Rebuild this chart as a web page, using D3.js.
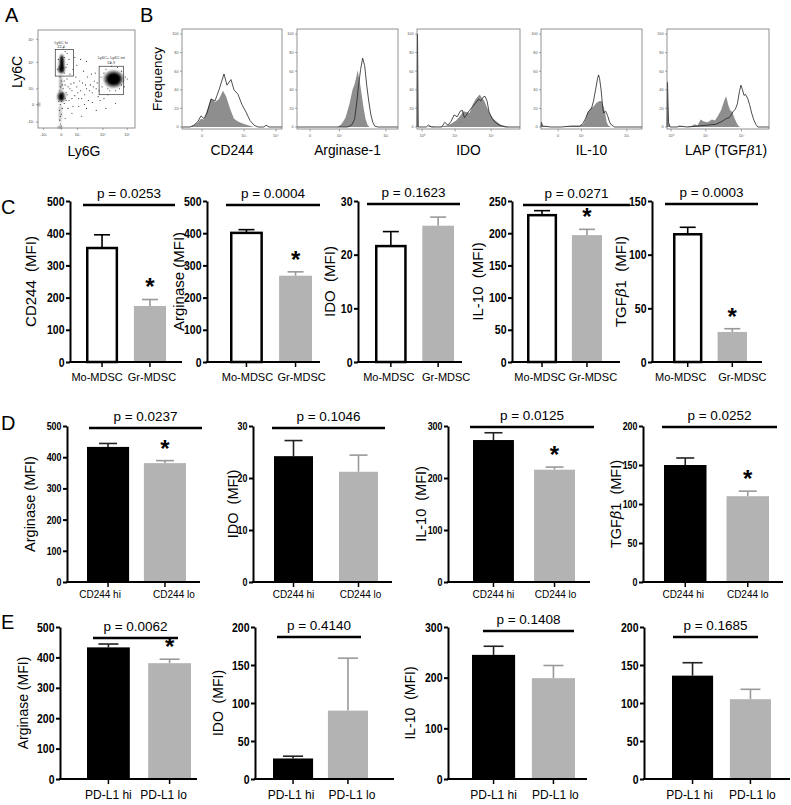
<!DOCTYPE html>
<html><head><meta charset="utf-8">
<script src="https://cdn.jsdelivr.net/npm/d3@7"></script>
<style>
body{margin:0;background:#fff}
svg{display:block}
text{font-family:"Liberation Sans",Arial,Helvetica,sans-serif}
</style>
</head><body>
<svg id="c" width="791" height="805"></svg>
<script>
// ---------------- DATA ----------------
// Panel A: flow plot (axis units 0-100)
const scatterDensity = [ // [cx, cy, rx, ry, opacity]
  [24.5,66,2.3,9,1],[24,60,3.2,4,0.8],[78,50,7.5,6.5,1],[78,50,10.5,9,0.45],
  [24,32,2.8,4,1],[24,32,4.5,5.5,0.35],[23.5,45,1.2,9,0.45],[23,15,1.1,10,0.35],
  [22.5,0.8,2,0.8,1],[0.8,24,0.8,1.5,1]
];
const scatterEvents = [
  [22.5,8],[23,12],[24,14],[22,18],[25,20],[23,24],[24.5,27],[22,38],[23,42],[25,44],[24,48],[22.5,52],[26,40],[25,36],[21.5,27],[23,4],[24,2],
  [28,30],[30,34],[32,28],[35,38],[34,45],[38,33],[40,42],[42,30],[44,38],[46,46],[48,34],[50,40],[52,28],[54,44],[56,36],[58,48],[60,40],[62,32],
  [30,50],[33,55],[36,60],[40,64],[44,70],[50,68],[38,72],[47,58],[55,55],[29,62],[32,70],[27,25],[31,20],[36,22],[42,22],[48,24],[56,26],[64,28],
  [68,30],[72,34],[28,44],[31,42],[66,42],[68,56],[70,60],[72,40],[74,38],[84,40],[86,44],[88,48],[90,52],[86,58],[82,62],[76,63],[70,48],[65,52],
  [89,42],[80,38],[92,50],[75,66],[27,72],[28,78],[30,65],[27,56],[20,60],[21,70],[26,82],[30,76],[35,15],[45,12],[60,18],[70,20],[80,25],[28,10],[50,20],
  [29,36],[33,40],[37,46],[41,36],[45,30],[49,44],[53,38],[57,42],[61,46],[63,38],[39,52],[43,48],[51,52],[59,56],[35,30],[27,48],[29,28],[26,35]
];
const scatterGates = [[17.8,36.6,53,80],[63,88,34,63]];
const scatterGateLabels = [["Ly6C hi","22.0"],["Ly6C+ Ly6C int","59.9"]];
const scatterXTicks = [[5.8,"-10³"],[24,"0"],[40.7,"10³"],[67,"10⁴"],[92,"10⁵"]];
const scatterYTicks = [[6,"-10³"],[23.7,"0"],[40,"10³"],[67,"10⁴"],[90.5,"10⁵"]];

// Panel B: histograms (x: channel 0-100, y: frequency 0-100)
const histMarkers = ["CD244","Arginase-1","IDO","IL-10","LAP (TGF\u03B21)"];
const histShaded = [
  [[0,0],[8,0],[12,2],[16,5],[19,9],[22,8],[25,18],[29,31],[33,27],[37,30],[41,39],[44,33],[48,20],[52,9],[56,6],[60,4],[66,2],[72,0],[100,0]],
  [[0,0],[40,0],[44,3],[48,10],[52,25],[55,40],[57,46],[59,55],[60,61],[62,50],[64,35],[66,20],[68,8],[70,2],[72,0],[100,0]],
  [[0,0],[0.5,100],[1.2,0],[10,0],[12,1],[20,0],[30,2],[34,4],[38,7],[42,12],[45,17],[48,16],[51,15],[54,24],[57,30],[60,34],[61,35],[63,31],[65,29],[68,21],[71,14],[74,9],[78,5],[82,2],[86,1],[90,0],[100,0]],
  [[0,0],[0.5,5],[1.5,1],[10,0],[20,0],[30,1],[38,1],[42,3],[44,8],[46,15],[49,20],[52,22],[55,26],[58,28],[60,28],[62,22],[63.5,15],[65,5],[67,1],[70,0],[100,0]],
  [[0,0],[0.5,48],[1.5,5],[3,0],[10,0],[12,1],[18,0],[24,1],[27,3],[30,2],[33,8],[36,6],[40,5],[44,8],[47,7],[50,12],[53,18],[56,28],[58,33],[60,24],[62,18],[64,16],[66,10],[68,5],[70,1],[72,0],[100,0]]
];
const histOpen = [
  [[0,0],[8,0],[12,2],[16,6],[19,12],[22,9],[25,15],[29,30],[33,28],[37,40],[42,57],[45,45],[49,51],[52,40],[56,35],[60,24],[64,16],[68,7],[72,2],[76,0],[82,0],[84,2],[87,0],[100,0]],
  [[0,0],[50,0],[54,2],[57,8],[59,25],[61,45],[63,62],[65,74],[67,66],[69,45],[71,28],[73,14],[75,5],[77,1],[80,0],[100,0]],
  [[0,0],[0.5,100],[1.2,0],[9,0],[11,2],[14,0],[24,0],[27,5],[30,2],[33,6],[36,13],[39,11],[42,17],[44,18],[46,10],[48,13],[51,18],[54,22],[57,26],[60,30],[62,28],[64,32],[66,33],[68,28],[70,16],[73,9],[76,5],[80,2],[86,0],[100,0]],
  [[0,0],[0.5,5],[1.5,1],[10,0],[20,0],[30,1],[38,1],[41,3],[44,9],[47,17],[50,20],[52,28],[54,40],[56,52],[57,56],[58,52],[59.5,40],[61,22],[62,15],[64,17],[66,12],[68,5],[70,2],[73,0],[100,0]],
  [[0,0],[0.5,48],[1.5,5],[3,0],[10,0],[12,1],[20,0],[30,1],[40,2],[48,3],[54,6],[58,9],[61,10],[63,13],[65,17],[67,19],[69,25],[71,38],[72.5,45],[74,40],[75.5,34],[77,35],[79,31],[81,24],[83,15],[85,8],[87,3],[89,0],[100,0]]
];
const histXTicks = [
  [[20,"0"],[62,"10³"],[94,"10⁴"]],
  [[13,"0"],[42,"10²"],[88,"10³"]],
  [[5,"10⁰"],[37,"10¹"],[72,"10²"]],
  [[17,"0"],[40,"10²"],[85,"10³"]],
  [[4,"10⁰"],[38,"10¹"],[73,"10²"]]
];
const histYTicks = [0,20,40,60,80,100];

// Panel C
const cGroups = ["Mo-MDSC","Gr-MDSC"];
const cLabels = ["CD244  (MFI)","Arginase (MFI)","IDO  (MFI)","IL-10  (MFI)","TGF\u03B21  (MFI)"];
const cMeans = [[354,174],[401,268],[21.6,25.4],[228,197],[119,28]];
const cErrors = [[41,20],[10,12],[2.7,1.6],[7,9],[6.5,3]];
const cP = ["0.0253","0.0004","0.1623","0.0271","0.0003"];
const cStar = [1,1,0,1,1];
const cMax = [500,500,30,250,150];
const cTicks = [[0,100,200,300,400,500],[0,100,200,300,400,500],[0,10,20,30],[0,50,100,150,200,250],[0,50,100,150]];

// Panel D
const dGroups = ["CD244 hi","CD244 lo"];
const dLabels = ["Arginase (MFI)","IDO  (MFI)","IL-10  (MFI)","TGF\u03B21  (MFI)"];
const dMeans = [[433,381],[24.2,21.2],[273,216],[150,110]];
const dErrors = [[11,8],[3,3.2],[14,5],[9,6.5]];
const dP = ["0.0237","0.1046","0.0125","0.0252"];
const dStar = [1,0,1,1];
const dMax = [500,30,300,200];
const dTicks = [[0,100,200,300,400,500],[0,10,20,30],[0,100,200,300],[0,50,100,150,200]];

// Panel E
const eGroups = ["PD-L1 hi","PD-L1 lo"];
const eLabels = ["Arginase (MFI)","IDO  (MFI)","IL-10  (MFI)",""];
const eMeans = [[433,381],[27,90],[245,199],[136,105]];
const eErrors = [[11,13],[3,69],[17,25],[17,13]];
const eP = ["0.0062","0.4140","0.1408","0.1685"];
const eStar = [1,0,0,0];
const eMax = [500,200,300,200];
const eTicks = [[0,100,200,300,400,500],[0,50,100,150,200],[0,100,200,300],[0,50,100,150,200]];

// ---------------- DRAWING ----------------
const svg = d3.select("#c");
const FONT = '"Liberation Sans", Arial, Helvetica, sans-serif';
const defs = svg.append("defs");
defs.append("filter").attr("id","blur").attr("x","-50%").attr("y","-50%").attr("width","200%").attr("height","200%")
  .append("feGaussianBlur").attr("stdDeviation",1.0);

function letter(t,x,y){ svg.append("text").attr("x",x).attr("y",y).attr("font-size",20).text(t); }
letter("A",5,22); letter("B",140,22); letter("C",1,214); letter("D",1,430); letter("E",1,629);

function betaText(sel, str){
  if (str.includes("\u03B2")) {
    const parts = str.split("\u03B2");
    sel.append("tspan").text(parts[0]);
    sel.append("tspan").attr("font-style","italic").attr("font-family","DejaVu Serif, serif").text("\u03B2");
    sel.append("tspan").text(parts[1]);
  } else sel.text(str);
}

// ----- Panel A -----
(function(){
  const B = {x0:38,x1:135,y0:128,y1:30};
  const sx = d3.scaleLinear().domain([0,100]).range([B.x0,B.x1]);
  const sy = d3.scaleLinear().domain([0,100]).range([B.y0,B.y1]);
  const g = svg.append("g");
  defs.append("clipPath").attr("id","clipA").append("rect").attr("x",B.x0-1).attr("y",B.y1).attr("width",B.x1-B.x0+1).attr("height",B.y0-B.y1+1);
  const inner = g.append("g").attr("clip-path","url(#clipA)");
  inner.selectAll("ellipse").data(scatterDensity).join("ellipse")
    .attr("cx",d=>sx(d[0])).attr("cy",d=>sy(d[1]))
    .attr("rx",d=>sx(d[2])-sx(0)).attr("ry",d=>sy(0)-sy(d[3]))
    .attr("fill","#000").attr("opacity",d=>d[4]).attr("filter","url(#blur)");
  inner.selectAll("circle").data(scatterEvents).join("circle")
    .attr("cx",d=>sx(d[0])).attr("cy",d=>sy(d[1])).attr("r",0.55).attr("fill","#222");
  g.append("rect").attr("x",B.x0).attr("y",B.y1).attr("width",B.x1-B.x0).attr("height",B.y0-B.y1)
    .attr("fill","none").attr("stroke","#777").attr("stroke-width",0.8);
  g.selectAll(".gate").data(scatterGates).join("rect").attr("class","gate")
    .attr("x",d=>sx(d[0])).attr("y",d=>sy(d[3])).attr("width",d=>sx(d[1])-sx(d[0])).attr("height",d=>sy(d[2])-sy(d[3]))
    .attr("fill","none").attr("stroke","#333").attr("stroke-width",0.7);
  scatterGateLabels.forEach((lab,i)=>{
    const gd = scatterGates[i];
    const cx = i===0 ? sx(gd[0])+6 : sx((gd[0]+gd[1])/2);
    const y0 = sy(gd[3]) - (i===0 ? 6 : 7);
    g.append("text").attr("x",cx).attr("y",y0).attr("font-size",4).attr("text-anchor","middle").attr("fill","#333").text(lab[0]);
    g.append("text").attr("x",cx).attr("y",y0+4.5).attr("font-size",4).attr("text-anchor","middle").attr("fill","#333").text(lab[1]);
  });
  scatterXTicks.forEach(t=>{
    g.append("line").attr("x1",sx(t[0])).attr("x2",sx(t[0])).attr("y1",B.y0).attr("y2",B.y0+2).attr("stroke","#555").attr("stroke-width",0.5);
    g.append("text").attr("x",sx(t[0])).attr("y",B.y0+8).attr("font-size",3.8).attr("text-anchor","middle").attr("fill","#444").text(t[1]);
  });
  scatterYTicks.forEach(t=>{
    g.append("line").attr("x1",B.x0-2).attr("x2",B.x0).attr("y1",sy(t[0])).attr("y2",sy(t[0])).attr("stroke","#555").attr("stroke-width",0.5);
    g.append("text").attr("x",B.x0-4).attr("y",sy(t[0])+1.3).attr("font-size",3.8).attr("text-anchor","end").attr("fill","#444").text(t[1]);
  });
  g.append("text").attr("transform","translate(22,72) rotate(-90)").attr("text-anchor","middle").attr("font-size",14).text("Ly6C");
  g.append("text").attr("x",84).attr("y",156).attr("text-anchor","middle").attr("font-size",14).text("Ly6G");
})();

// ----- Panel B -----
const histBoxes = [[182,282],[297,398],[417,520],[541,642],[667,769]];
svg.append("text").attr("transform","translate(162,79) rotate(-90)").attr("text-anchor","middle").attr("font-size",13.5).text("Frequency");
histMarkers.forEach((m,i)=>{
  const [x0,x1] = histBoxes[i];
  const g = svg.append("g");
  const hx = d3.scaleLinear().domain([0,100]).range([x0,x1]);
  const hy = d3.scaleLinear().domain([0,100]).range([127,34]);
  const area = d3.area().x(d=>hx(d[0])).y0(hy(0)).y1(d=>hy(d[1]));
  const line = d3.line().x(d=>hx(d[0])).y(d=>hy(d[1]));
  g.append("path").attr("d",area(histShaded[i])).attr("fill","#8e8e8e");
  g.append("path").attr("d",line(histOpen[i])).attr("fill","none").attr("stroke","#222").attr("stroke-width",0.8);
  g.append("rect").attr("x",x0).attr("y",29).attr("width",x1-x0).attr("height",100)
    .attr("fill","none").attr("stroke","#777").attr("stroke-width",0.8);
  histYTicks.forEach(t=>{
    g.append("line").attr("x1",x0-2).attr("x2",x0).attr("y1",hy(t)).attr("y2",hy(t)).attr("stroke","#555").attr("stroke-width",0.5);
    g.append("text").attr("x",x0-3.5).attr("y",hy(t)+1.3).attr("font-size",3.8).attr("text-anchor","end").attr("fill","#555").text(t);
  });
  histXTicks[i].forEach(t=>{
    g.append("line").attr("x1",hx(t[0])).attr("x2",hx(t[0])).attr("y1",129).attr("y2",131.5).attr("stroke","#555").attr("stroke-width",0.5);
    g.append("text").attr("x",hx(t[0])).attr("y",137).attr("font-size",3.8).attr("text-anchor","middle").attr("fill","#555").text(t[1]);
  });
  const lab = g.append("text").attr("x",(x0+x1)/2 + (i===4?8:0)).attr("y",155).attr("text-anchor","middle").attr("font-size",13.8);
  betaText(lab, m);
});

// ----- Bar charts -----
function drawBar(L, d){
  const g = svg.append("g");
  const y = d3.scaleLinear().domain([0,d.max]).range([L.y0,L.y1]);
  const x = d3.scaleBand().domain(d.groups).range([L.b0,L.b1]).paddingInner(L.pi).paddingOuter(0);
  d.groups.forEach((grp,i)=>{
    const st = L.style[i];
    const bx = x(grp), bw = x.bandwidth(), cx = bx + bw/2;
    const top = y(d.means[i]), et = y(d.means[i]+d.errs[i]);
    g.append("line").attr("x1",cx).attr("x2",cx).attr("y1",top).attr("y2",et).attr("stroke",st.err).attr("stroke-width",1.6);
    g.append("line").attr("x1",cx-L.cap/2).attr("x2",cx+L.cap/2).attr("y1",et).attr("y2",et).attr("stroke",st.err).attr("stroke-width",1.6);
    if (st.stroke) {
      const sw = st.sw;
      g.append("rect").attr("x",bx+sw/2).attr("y",top).attr("width",bw-sw).attr("height",L.y0-top)
        .attr("fill",st.fill).attr("stroke",st.stroke).attr("stroke-width",sw);
    } else {
      g.append("rect").attr("x",bx).attr("y",top).attr("width",bw).attr("height",L.y0-top).attr("fill",st.fill);
    }
    if (d.star && i===1) {
      g.append("text").attr("x",cx).attr("y",et-18+0.58*24).attr("text-anchor","middle")
        .attr("font-size",24).attr("font-weight","bold").text("*");
    }
  });
  // y axis
  const ya = g.append("g").attr("transform",`translate(${L.ax},0)`)
    .call(d3.axisLeft(y).tickValues(d.ticks).tickFormat(d3.format("d")).tickSize(4).tickSizeOuter(0).tickPadding(1.5));
  ya.select(".domain").attr("stroke-width",2);
  ya.selectAll(".tick line").attr("stroke-width",2);
  ya.selectAll("text").attr("font-family",FONT).attr("font-weight","bold").attr("font-size",L.tfs).attr("fill","#000")
    .attr("textLength",function(){ return this.textContent.length*0.45*L.tfs; })
    .attr("lengthAdjust","spacingAndGlyphs");
  // x axis
  g.append("line").attr("x1",L.ax-1).attr("x2",L.xe).attr("y1",L.y0).attr("y2",L.y0).attr("stroke","#000").attr("stroke-width",2);
  const xa = g.append("g").attr("transform",`translate(0,${L.y0})`)
    .call(d3.axisBottom(x).tickSize(5).tickSizeOuter(0).tickPadding(L.xpad));
  xa.select(".domain").remove();
  xa.selectAll(".tick line").attr("stroke-width",1.5);
  xa.selectAll("text").attr("font-family",FONT).attr("font-size",L.xfs).attr("fill","#000")
    .attr("dx",(v,i)=>L.xdx[i]);
  // significance
  g.append("line").attr("x1",L.sx0).attr("x2",L.sx1).attr("y1",L.sy).attr("y2",L.sy).attr("stroke","#000").attr("stroke-width",2.5);
  g.append("text").attr("x",(L.sx0+L.sx1)/2).attr("y",L.sy-7).attr("text-anchor","middle").attr("font-size",13.5).text("p = "+d.p);
  // y label
  if (d.label) {
    const t = g.append("text").attr("transform",`translate(${L.lx},${(L.y0+L.y1)/2}) rotate(-90)`)
      .attr("text-anchor","middle").attr("dominant-baseline","middle").attr("font-size",L.lfs).style("white-space","pre");
    betaText(t, d.label);
  }
}

const styleC = [{fill:"#fff",stroke:"#000",sw:2.5,err:"#000"},{fill:"#b3b3b3",err:"#999"}];
const styleDE = [{fill:"#000",err:"#222"},{fill:"#b3b3b3",err:"#999"}];

const layoutC = [
  {ax:70, xe:182,b0:86, b1:166,pi:0.33,sx0:83, sx1:175,sy:205,lx:32, xdx:[-5,2]},
  {ax:207,xe:320,b0:230,b1:312,pi:0.33,sx0:226,sx1:320,sy:205,lx:180,xdx:[1,6]},
  {ax:358,xe:462,b0:375,b1:454,pi:0.33,sx0:367,sx1:460,sy:204,lx:331,xdx:[-2,8]},
  {ax:512,xe:620,b0:527,b1:602,pi:0.33,sx0:523,sx1:630,sy:205,lx:479,xdx:[-2,6]},
  {ax:652,xe:762,b0:673,b1:747,pi:0.34,sx0:665,sx1:758,sy:204,lx:622,xdx:[-7,10]}
];
layoutC.forEach((L,i)=>{
  Object.assign(L,{y0:362,y1:201,tfs:13,lfs:15,xfs:11,xpad:6,cap:16,style:styleC});
  drawBar(L,{groups:cGroups,means:cMeans[i],errs:cErrors[i],p:cP[i],star:cStar[i],max:cMax[i],ticks:cTicks[i],label:cLabels[i]});
});

const layoutD = [
  {ax:67, xe:200,b0:87, b1:186,pi:0.26,sx0:89, sx1:202,sy:428,lx:31, xdx:[-8,9]},
  {ax:253,xe:392,b0:274,b1:378,pi:0.40,sx0:272,sx1:385,sy:428,lx:234,xdx:[0,2]},
  {ax:448,xe:590,b0:473,b1:575,pi:0.33,sx0:470,sx1:594,sy:427,lx:422,xdx:[0,1]},
  {ax:643,xe:783,b0:664,b1:769,pi:0.32,sx0:662,sx1:777,sy:427,lx:617,xdx:[-2,0]}
];
layoutD.forEach((L,i)=>{
  Object.assign(L,{y0:582,y1:426,tfs:11,lfs:14.5,xfs:10,xpad:4,cap:18,style:styleDE});
  drawBar(L,{groups:dGroups,means:dMeans[i],errs:dErrors[i],p:dP[i],star:dStar[i],max:dMax[i],ticks:dTicks[i],label:dLabels[i]});
});

const layoutE = [
  {ax:60, xe:197,b0:87, b1:191,pi:0.30,sx0:93, sx1:178,sy:638,lx:24, xdx:[0,-6]},
  {ax:255,xe:394,b0:273,b1:368,pi:0.27,sx0:277,sx1:361,sy:637,lx:219,xdx:[-2,4]},
  {ax:448,xe:587,b0:472,b1:575,pi:0.28,sx0:483,sx1:574,sy:631,lx:411,xdx:[0,2]},
  {ax:644,xe:790,b0:672,b1:771,pi:0.29,sx0:673,sx1:758,sy:637,lx:0,  xdx:[-3,2]}
];
layoutE.forEach((L,i)=>{
  Object.assign(L,{y0:779,y1:627,tfs:13,lfs:14,xfs:12,xpad:6,cap:20,style:styleDE});
  drawBar(L,{groups:eGroups,means:eMeans[i],errs:eErrors[i],p:eP[i],star:eStar[i],max:eMax[i],ticks:eTicks[i],label:eLabels[i]});
});
</script>
</body></html>
